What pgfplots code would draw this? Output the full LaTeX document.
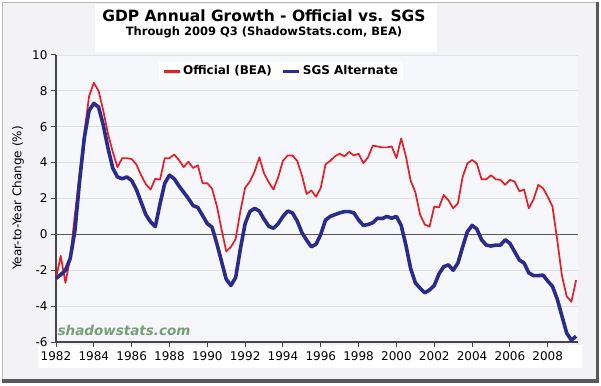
\documentclass[border=0pt]{standalone}
\usepackage{pgfplots}
\pgfplotsset{compat=1.18}
\usepackage{fontspec}
\setmainfont{DejaVu Sans}
\definecolor{offred}{RGB}{232,28,36}
\definecolor{sgsblue}{RGB}{42,44,140}
\definecolor{bgout}{RGB}{243,243,245}
\definecolor{bgplot}{RGB}{246,247,250}
\definecolor{gridc}{RGB}{222,224,228}
\definecolor{axc}{RGB}{70,70,70}
\definecolor{wm}{RGB}{120,158,120}
\begin{document}
\begin{tikzpicture}[x=1pt,y=1pt]
\useasboundingbox (0,0) rectangle (601,385);
\fill[bgout] (2,4) rectangle (596,383);
\draw[gray!55, line width=0.8] (2.4,4) -- (2.4,382.6) -- (596,382.6);
\fill[gray!70!black] (595.5,2.5) rectangle (599,383);
\fill[gray!70!black] (2,2.5) rectangle (599,6);
\fill[white] (95,333) rectangle (437,381);
\fill[white] (38,17) rectangle (582,40);
\node[font=\bfseries\fontsize{15.5}{18}\selectfont] at (264,369) {GDP Annual Growth - Official vs. SGS};
\node[font=\bfseries\fontsize{11.5}{14}\selectfont] at (264,352.5) {Through 2009 Q3 (ShadowStats.com, BEA)};
\node[rotate=90, font=\fontsize{12}{14}\selectfont] at (18,187) {Year-to-Year Change (\%)};
\begin{axis}[
  at={(56pt,43pt)}, anchor=south west,
  scale only axis, width=522pt, height=287pt,
  xmin=1982, xmax=2009.6, ymin=-6, ymax=10,
  axis x line*=bottom, axis y line*=left,
  axis line style={axc, line width=1.2pt},
  axis background/.style={fill=bgplot},
  xtick={1982,1984,...,2008},
  ytick={-6,-4,-2,2,4,6,8,10},
  extra y ticks={0},
  extra y tick style={grid style={gray!70!black, line width=1.3pt}},
  ymajorgrids, grid style={gridc, line width=0.9pt},
  tick align=outside, major tick length=5pt,
  tick style={axc, line width=1pt},
  x tick label style={/pgf/number format/1000 sep={}, font=\fontsize{12}{14}\selectfont, yshift=-1pt},
  y tick label style={font=\fontsize{12}{14}\selectfont},
  /pgf/number format/assume math mode=true,
  legend columns=2,
  legend style={at={(0.431,0.944)}, anchor=center, draw=none, fill=white,
    font=\bfseries\fontsize{12}{14}\selectfont,
    /tikz/every even column/.append style={column sep=8pt}},
  legend image code/.code={\draw[#1, line width=3pt] (0pt,0pt) -- (16pt,0pt);},
  clip=false,
]
\addplot[offred, line width=1.7pt, line join=round] table {
1982.00 -2.45
1982.25 -1.2
1982.50 -2.7
1982.75 -1.3
1983.00 1.1
1983.25 3.4
1983.50 5.7
1983.75 7.7
1984.00 8.45
1984.25 8.0
1984.50 6.9
1984.75 5.6
1985.00 4.6
1985.25 3.75
1985.50 4.25
1985.75 4.25
1986.00 4.2
1986.25 3.9
1986.50 3.3
1986.75 2.8
1987.00 2.5
1987.25 3.1
1987.50 3.05
1987.75 4.25
1988.00 4.25
1988.25 4.45
1988.50 4.15
1988.75 3.75
1989.00 4.05
1989.25 3.7
1989.50 3.85
1989.75 2.85
1990.00 2.85
1990.25 2.55
1990.50 1.6
1990.75 0.3
1991.00 -0.95
1991.25 -0.7
1991.50 -0.25
1991.75 1.3
1992.00 2.6
1992.25 2.95
1992.50 3.5
1992.75 4.3
1993.00 3.4
1993.25 2.9
1993.50 2.5
1993.75 3.2
1994.00 4.1
1994.25 4.4
1994.50 4.4
1994.75 4.1
1995.00 3.3
1995.25 2.25
1995.50 2.45
1995.75 2.1
1996.00 2.6
1996.25 3.9
1996.50 4.1
1996.75 4.35
1997.00 4.5
1997.25 4.35
1997.50 4.6
1997.75 4.4
1998.00 4.5
1998.25 3.97
1998.50 4.3
1998.75 4.95
1999.00 4.9
1999.25 4.85
1999.50 4.85
1999.75 4.9
2000.00 4.25
2000.25 5.35
2000.50 4.35
2000.75 3.0
2001.00 2.35
2001.25 1.1
2001.50 0.55
2001.75 0.43
2002.00 1.55
2002.25 1.5
2002.50 2.2
2002.75 1.9
2003.00 1.45
2003.25 1.73
2003.50 3.2
2003.75 3.95
2004.00 4.15
2004.25 3.95
2004.50 3.07
2004.75 3.07
2005.00 3.3
2005.25 3.07
2005.50 3.04
2005.75 2.76
2006.00 3.04
2006.25 2.94
2006.50 2.4
2006.75 2.5
2007.00 1.45
2007.25 1.95
2007.50 2.76
2007.75 2.57
2008.00 2.1
2008.25 1.55
2008.50 -0.3
2008.75 -2.3
2009.00 -3.45
2009.25 -3.76
2009.50 -2.55
};
\addlegendentry{Official (BEA)}
\addplot[sgsblue, line width=3.6pt, line join=round] table {
1982.00 -2.45
1982.25 -2.25
1982.50 -2.0
1982.75 -1.35
1983.00 0.2
1983.25 3.0
1983.50 5.4
1983.75 6.9
1984.00 7.3
1984.25 7.1
1984.50 6.1
1984.75 4.8
1985.00 3.7
1985.25 3.2
1985.50 3.1
1985.75 3.2
1986.00 3.0
1986.25 2.5
1986.50 1.8
1986.75 1.1
1987.00 0.7
1987.25 0.43
1987.50 1.7
1987.75 2.85
1988.00 3.3
1988.25 3.1
1988.50 2.7
1988.75 2.35
1989.00 2.0
1989.25 1.6
1989.50 1.5
1989.75 1.05
1990.00 0.6
1990.25 0.4
1990.50 -0.5
1990.75 -1.5
1991.00 -2.5
1991.25 -2.85
1991.50 -2.4
1991.75 -0.8
1992.00 0.6
1992.25 1.27
1992.50 1.45
1992.75 1.3
1993.00 0.85
1993.25 0.45
1993.50 0.34
1993.75 0.6
1994.00 1.0
1994.25 1.3
1994.50 1.2
1994.75 0.75
1995.00 0.1
1995.25 -0.32
1995.50 -0.69
1995.75 -0.55
1996.00 0.0
1996.25 0.8
1996.50 1.0
1996.75 1.1
1997.00 1.2
1997.25 1.27
1997.50 1.27
1997.75 1.2
1998.00 0.8
1998.25 0.5
1998.50 0.55
1998.75 0.65
1999.00 0.9
1999.25 0.88
1999.50 1.0
1999.75 0.9
2000.00 1.0
2000.25 0.5
2000.50 -0.6
2000.75 -1.9
2001.00 -2.7
2001.25 -3.0
2001.50 -3.26
2001.75 -3.1
2002.00 -2.85
2002.25 -2.2
2002.50 -1.8
2002.75 -1.7
2003.00 -2.0
2003.25 -1.6
2003.50 -0.7
2003.75 0.15
2004.00 0.5
2004.25 0.3
2004.50 -0.3
2004.75 -0.6
2005.00 -0.65
2005.25 -0.6
2005.50 -0.6
2005.75 -0.3
2006.00 -0.5
2006.25 -0.97
2006.50 -1.43
2006.75 -1.6
2007.00 -2.15
2007.25 -2.3
2007.50 -2.3
2007.75 -2.27
2008.00 -2.6
2008.25 -2.9
2008.50 -3.6
2008.75 -4.55
2009.00 -5.5
2009.25 -5.9
2009.50 -5.68
};
\addlegendentry{SGS Alternate}
\end{axis}
\node[font=\bfseries\itshape\fontsize{13.5}{16}\selectfont, text=wm] at (124,55) {shadowstats.com};
\end{tikzpicture}
\end{document}
